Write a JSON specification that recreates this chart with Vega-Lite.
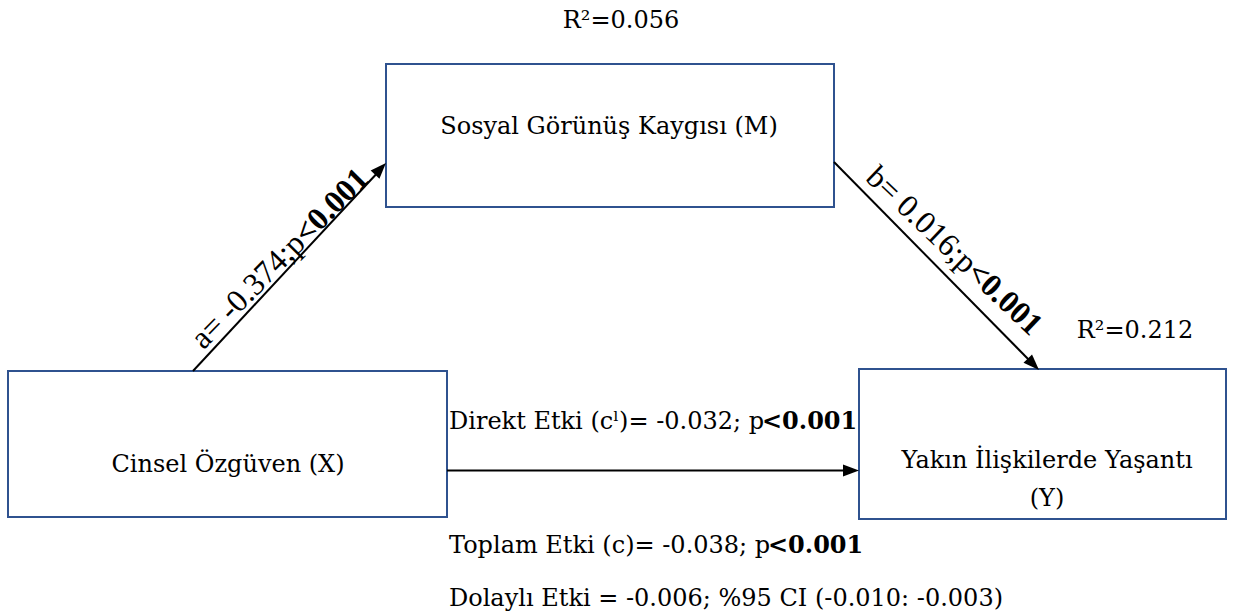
{
  "$schema": "https://vega.github.io/schema/vega-lite/v6.json",
  "width": 1235,
  "height": 616,
  "padding": 0,
  "autosize": {"type": "fit", "contains": "padding"},
  "background": "white",
  "config": {"view": {"stroke": null}},
  "datasets": {
    "boxes": [
      {"id": "M", "x1": 386, "x2": 834, "y1": 64, "y2": 207},
      {"id": "X", "x1": 8, "x2": 447, "y1": 371, "y2": 517},
      {"id": "Y", "x1": 859, "x2": 1226, "y1": 369, "y2": 519}
    ],
    "paths": [
      {"id": "a", "x1": 193, "y1": 371, "x2": 381, "y2": 169, "hx": 380.5, "hy": 168.8, "ang": -47},
      {"id": "b", "x1": 834, "y1": 162, "x2": 1033, "y2": 364, "hx": 1033.4, "hy": 364.3, "ang": 45.3},
      {"id": "c", "x1": 447, "y1": 470.5, "x2": 851, "y2": 470.5, "hx": 851, "hy": 470.5, "ang": 0}
    ],
    "centerLabels": [
      {"t": "Sosyal Görünüş Kaygısı (M)", "x": 609, "y": 134},
      {"t": "Cinsel Özgüven (X)", "x": 228, "y": 472},
      {"t": "Yakın İlişkilerde Yaşantı", "x": 1047, "y": 468},
      {"t": "(Y)", "x": 1047, "y": 506},
      {"t": "R²=0.056", "x": 621, "y": 28},
      {"t": "R²=0.212", "x": 1135, "y": 338}
    ],
    "leftNormal": [
      {"t": "Direkt Etki (cˡ)= -0.032; p", "x": 449, "y": 429},
      {"t": "Toplam Etki (c)= -0.038; p", "x": 449, "y": 553},
      {"t": "Dolaylı Etki = -0.006; %95 CI (-0.010: -0.003)", "x": 449, "y": 606}
    ],
    "leftBold": [
      {"t": "<0.001", "x": 762, "y": 429},
      {"t": "<0.001", "x": 768, "y": 553}
    ],
    "rotA": [
      {"pre": "a= -0.374;p", "post": "<0.001", "x": 307, "y": 245}
    ],
    "rotB": [
      {"pre": "b= 0.016;p", "post": "<0.001", "x": 965, "y": 275}
    ]
  },
  "layer": [
    {
      "data": {"name": "boxes"},
      "mark": {"type": "rect", "fill": "white", "stroke": "#2F528F", "strokeWidth": 2},
      "encoding": {
        "x": {"field": "x1", "type": "quantitative", "scale": {"domain": [0, 1235], "nice": false, "zero": false}, "axis": null},
        "x2": {"field": "x2"},
        "y": {"field": "y1", "type": "quantitative", "scale": {"domain": [0, 616], "nice": false, "zero": false, "reverse": true}, "axis": null},
        "y2": {"field": "y2"}
      }
    },
    {
      "data": {"name": "paths"},
      "mark": {"type": "rule", "color": "black", "strokeWidth": 2},
      "encoding": {
        "x": {"field": "x1", "type": "quantitative"},
        "y": {"field": "y1", "type": "quantitative"},
        "x2": {"field": "x2"},
        "y2": {"field": "y2"}
      }
    },
    {
      "data": {"name": "paths"},
      "mark": {"type": "point", "shape": "M1,0L-1,-0.75L-1,0.75Z", "filled": true, "color": "black", "opacity": 1, "size": 256, "strokeWidth": 0},
      "encoding": {
        "x": {"field": "hx", "type": "quantitative"},
        "y": {"field": "hy", "type": "quantitative"},
        "angle": {"field": "ang", "type": "quantitative", "scale": null}
      }
    },
    {
      "data": {"name": "centerLabels"},
      "mark": {"type": "text", "font": "DejaVu Serif", "fontSize": 24, "align": "center", "baseline": "alphabetic", "color": "black"},
      "encoding": {
        "x": {"field": "x", "type": "quantitative"},
        "y": {"field": "y", "type": "quantitative"},
        "text": {"field": "t"}
      }
    },
    {
      "data": {"name": "leftNormal"},
      "mark": {"type": "text", "font": "DejaVu Serif", "fontSize": 24, "align": "left", "baseline": "alphabetic", "color": "black"},
      "encoding": {
        "x": {"field": "x", "type": "quantitative"},
        "y": {"field": "y", "type": "quantitative"},
        "text": {"field": "t"}
      }
    },
    {
      "data": {"name": "leftBold"},
      "mark": {"type": "text", "font": "DejaVu Serif", "fontSize": 24, "fontWeight": "bold", "align": "left", "baseline": "alphabetic", "color": "black"},
      "encoding": {
        "x": {"field": "x", "type": "quantitative"},
        "y": {"field": "y", "type": "quantitative"},
        "text": {"field": "t"}
      }
    },
    {
      "data": {"name": "rotA"},
      "mark": {"type": "text", "font": "Liberation Serif", "fontSize": 32, "align": "right", "baseline": "alphabetic", "angle": -45.5, "color": "black"},
      "encoding": {
        "x": {"field": "x", "type": "quantitative"},
        "y": {"field": "y", "type": "quantitative"},
        "text": {"field": "pre"}
      }
    },
    {
      "data": {"name": "rotA"},
      "mark": {"type": "text", "font": "Liberation Serif", "fontSize": 32, "fontWeight": "bold", "align": "left", "baseline": "alphabetic", "angle": -45.5, "color": "black"},
      "encoding": {
        "x": {"field": "x", "type": "quantitative"},
        "y": {"field": "y", "type": "quantitative"},
        "text": {"field": "post"}
      }
    },
    {
      "data": {"name": "rotB"},
      "mark": {"type": "text", "font": "Liberation Serif", "fontSize": 32, "align": "right", "baseline": "alphabetic", "angle": 43.5, "color": "black"},
      "encoding": {
        "x": {"field": "x", "type": "quantitative"},
        "y": {"field": "y", "type": "quantitative"},
        "text": {"field": "pre"}
      }
    },
    {
      "data": {"name": "rotB"},
      "mark": {"type": "text", "font": "Liberation Serif", "fontSize": 32, "fontWeight": "bold", "align": "left", "baseline": "alphabetic", "angle": 43.5, "color": "black"},
      "encoding": {
        "x": {"field": "x", "type": "quantitative"},
        "y": {"field": "y", "type": "quantitative"},
        "text": {"field": "post"}
      }
    }
  ]
}
